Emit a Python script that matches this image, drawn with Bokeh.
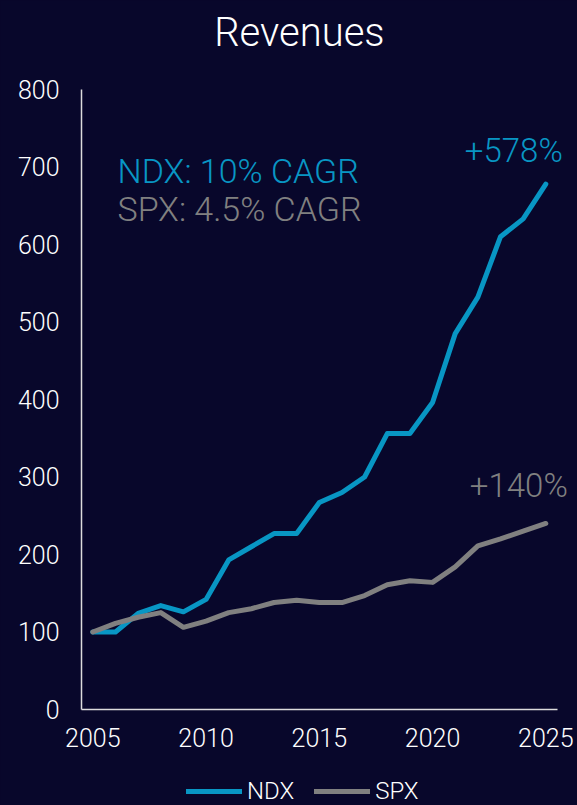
from bokeh.plotting import figure
from bokeh.models import Range1d, FixedTicker, Label, Legend, LegendItem
from bokeh.embed import file_html
from bokeh.resources import INLINE

# ---- data ----
years = list(range(2005, 2026))
ndx = [100, 100, 124, 134, 126, 142, 193, 210, 227, 227, 267,
       280, 300, 356, 356, 396, 485, 532, 610, 633, 678]
spx = [100, 111, 119, 125, 106, 114, 125, 130, 138, 141, 138,
       138, 147, 161, 166, 164, 184, 211, 220, 230, 240]
y_ticks = [0, 100, 200, 300, 400, 500, 600, 700, 800]
x_ticks = [2005, 2010, 2015, 2020, 2025]
series_names = ["NDX", "SPX"]
title_text = "Revenues"
cagr_texts = ["NDX: 10% CAGR", "SPX: 4.5% CAGR"]
growth_texts = ["+578%", "+140%"]

BG = "#08072b"
BLUE = "#0896c4"
GRAY = "#808080"
FONT = "Roboto Light, Roboto"

p = figure(width=577, height=805, output_backend="svg", toolbar_location=None,
           x_range=Range1d(2000.924, 2026.399), y_range=Range1d(-123.9, 914.8),
           min_border=0, min_border_left=0, min_border_right=0,
           min_border_top=0, min_border_bottom=0)
p.background_fill_color = BG
p.border_fill_color = BG
p.outline_line_color = None
p.xgrid.visible = False
p.ygrid.visible = False

r_ndx = p.line(years, ndx, line_color=BLUE, line_width=5,
               line_cap="round", line_join="round")
r_spx = p.line(years, spx, line_color=GRAY, line_width=5,
               line_cap="round", line_join="round")

for ax in (p.xaxis[0], p.yaxis[0]):
    ax.axis_line_color = "#dcdcdc"
    ax.axis_line_width = 1.5
    ax.major_tick_line_color = None
    ax.minor_tick_line_color = None
    ax.major_tick_out = 0
    ax.major_tick_in = 0
    ax.major_label_text_color = "white"
    ax.major_label_text_font = FONT
    ax.major_label_text_font_size = "25px"

p.xaxis.ticker = FixedTicker(ticks=x_ticks)
p.yaxis.ticker = FixedTicker(ticks=y_ticks)
p.xaxis.bounds = (2004.5, 2025.5)
p.yaxis.bounds = (0, 800)
p.xaxis.fixed_location = 0
p.yaxis.fixed_location = 2004.5
p.yaxis.major_label_standoff = 22
p.xaxis.major_label_standoff = 19

# title as label
p.add_layout(Label(x=2014.12, y=873.4, text=title_text, text_align="center",
                   text_baseline="alphabetic", text_color="white",
                   text_font=FONT, text_font_size="40px"))

p.add_layout(Label(x=2006.09, y=694.5, text=cagr_texts[0], text_align="left",
                   text_baseline="alphabetic", text_color=BLUE,
                   text_font=FONT, text_font_size="34px"))
p.add_layout(Label(x=2006.09, y=645.5, text=cagr_texts[1], text_align="left",
                   text_baseline="alphabetic", text_color=GRAY,
                   text_font=FONT, text_font_size="34px"))
p.add_layout(Label(x=2025.75, y=721.5, text=growth_texts[0], text_align="right",
                   text_baseline="alphabetic", text_color=BLUE,
                   text_font=FONT, text_font_size="33px"))
p.add_layout(Label(x=2025.97, y=288.5, text=growth_texts[1], text_align="right",
                   text_baseline="alphabetic", text_color=GRAY,
                   text_font=FONT, text_font_size="33px"))

legend = Legend(items=[LegendItem(label=series_names[0], renderers=[r_ndx]),
                       LegendItem(label=series_names[1], renderers=[r_spx])],
                location=(186, 0), orientation="horizontal",
                background_fill_alpha=0, border_line_alpha=0,
                label_text_color="white", label_text_font=FONT,
                label_text_font_size="24px", glyph_width=56, glyph_height=24,
                label_standoff=5, spacing=20, padding=0, margin=0)
p.add_layout(legend, "center")

html = file_html(p, INLINE)
html = html.replace("</head>", "<style>html,body{background:%s;}</style></head>" % BG, 1)
open("out.html", "w").write(html)
